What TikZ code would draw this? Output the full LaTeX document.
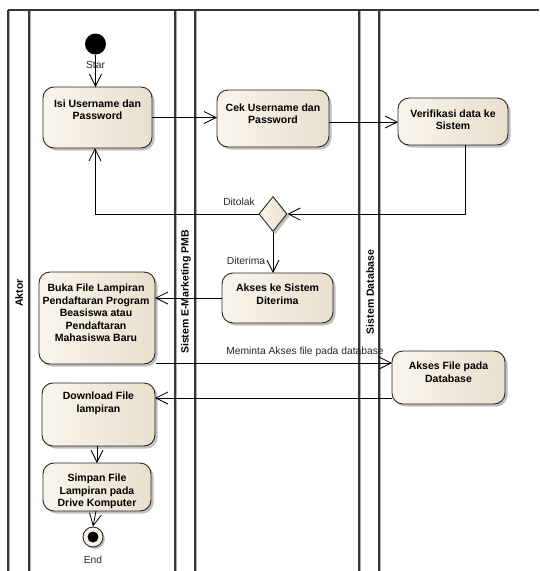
\documentclass[tikz,border=0pt]{standalone}
\usepackage{fontspec}
\setmainfont{Liberation Sans}
\usetikzlibrary{arrows.meta,shapes.geometric,shadows,calc}
\definecolor{boxL}{RGB}{250,245,236}
\definecolor{boxR}{RGB}{232,223,206}
\definecolor{laneC}{RGB}{55,55,55}
\definecolor{laneS}{RGB}{175,175,175}
\begin{document}
\begin{tikzpicture}[x=1pt,y=-1pt,
  actbox/.style={draw=black!85, line width=0.9pt, rounded corners=11pt,
    left color=boxL, right color=boxR, inner sep=0pt, outer sep=0pt,
    drop shadow={shadow xshift=2.5pt, shadow yshift=-2.5pt, fill=black!45, opacity=.55}},
  btxt/.style={align=center, inner sep=0pt, font=\fontsize{10.5}{12.5}\selectfont\bfseries},
  lbl/.style={inner sep=0pt, text=black!85, font=\fontsize{10.3}{12}\selectfont},
  lanetitle/.style={rotate=90, inner sep=0pt, font=\fontsize{10.5}{12}\selectfont\bfseries},
  arr/.style={-{Straight Barb[length=12pt,width=12pt]}, line width=0.8pt},
  laneline/.style={draw=laneC, line width=1.3pt},
  laneshade/.style={draw=laneS, line width=0.8pt}]

\useasboundingbox (0,0) rectangle (539,571);

% swimlane frame
\foreach \x in {8,29,175,195,359,379} {
  \draw[laneshade] (\x+1.3,11) -- (\x+1.3,571);
  \draw[laneline] (\x,10) -- (\x,571);
}
\draw[laneline] (8,10) -- (539,10);

\node[lanetitle] (lane1) at (19,293) {Aktor};
\node[lanetitle] (lane2) at (186,292) {Sistem E-Marketing PMB};
\node[lanetitle] (lane3) at (370,292) {Sistem Database};

% start and end
\node[circle, fill=black, minimum size=21pt, inner sep=0pt] (start) at (95.5,44) {};
\node[lbl] (startlbl) at (95.5,65) {Star};
\node[circle, draw=black!85, line width=0.9pt, fill=boxL, minimum size=20pt, inner sep=0pt,
  drop shadow={shadow xshift=2pt, shadow yshift=-2pt, fill=black!45, opacity=.55}] (end) at (93,537) {};
\node[circle, fill=black, minimum size=11pt, inner sep=0pt] (enddot) at (end) {};
\node[lbl] (endlbl) at (93,560) {End};

% activities
\node[actbox, minimum width=109pt, minimum height=61pt] (isi) at (97.5,117.5) {};
\node[btxt] (isit) at (97.5,109.5) {Isi Username dan\\Password};

\node[actbox, minimum width=112pt, minimum height=57pt] (cek) at (273,118.5) {};
\node[btxt] (cekt) at (273,113.5) {Cek Username dan\\Password};

\node[actbox, minimum width=110pt, minimum height=47pt] (ver) at (453,121.5) {};
\node[btxt] (vert) at (453,119.5) {Verifikasi data ke\\Sistem};

\node[draw=black!85, line width=0.9pt, shape=diamond, minimum width=28pt, minimum height=35pt,
  inner sep=0pt, left color=boxL, right color=boxR,
  drop shadow={shadow xshift=2.5pt, shadow yshift=-2.5pt, fill=black!45, opacity=.55}] (dia) at (273,214) {};

\node[actbox, minimum width=111pt, minimum height=50pt] (akses) at (277.5,298) {};
\node[btxt] (aksest) at (277.5,294) {Akses ke Sistem\\Diterima};

\node[actbox, minimum width=116pt, minimum height=92pt] (buka) at (97,318) {};
\node[btxt] (bukat) at (96,313) {Buka File Lampiran\\Pendaftaran Program\\Beasiswa atau\\Pendaftaran\\Mahasiswa Baru};

\node[actbox, minimum width=113pt, minimum height=53pt] (db) at (448.5,377.5) {};
\node[btxt] (dbt) at (448.5,372) {Akses File pada\\Database};

\node[actbox, minimum width=113pt, minimum height=63pt] (dl) at (98.5,414.5) {};
\node[btxt] (dlt) at (98.5,403.5) {Download File\\lampiran};

\node[actbox, minimum width=108pt, minimum height=48pt] (simpan) at (97,487) {};
\node[btxt] (simpant) at (97,491.5) {Simpan File\\Lampiran pada\\Drive Komputer};

% flows
\draw[arr] (start.south) -- (start.south |- isi.north);
\draw[arr] (isi.east) -- (isi.east -| cek.west);
\draw[arr] ($(cek.east)+(0,3.5)$) coordinate (c2) -- (c2 -| ver.west);
\draw[arr] ($(ver.south)+(12,0)$) |- (dia.east);
\draw[arr] (dia.west) -| ($(isi.south)+(-2.5,0)$);
\node[lbl] (ditolak) at (239,202) {Ditolak};
\draw[arr] (dia.south) -- (dia.south |- akses.north);
\node[lbl] (diterima) at (246,261) {Diterima};
\draw[arr] (akses.west) -- (akses.west -| buka.east);
\draw[arr] ($(buka.south east)+(1,-1)$) coordinate (b2) -- (b2 -| db.west);
\node[lbl] (minta) at (305,352) {Meminta Akses file pada database};
\draw[arr] ($(db.west)+(0,20.5)$) coordinate (d2) -- (d2 -| dl.east);
\draw[arr] (dl.south -| simpan.north) -- (simpan.north);
\draw[arr] ($(simpan.south)+(-1,0)$) -- (end.north);

\end{tikzpicture}
\end{document}
